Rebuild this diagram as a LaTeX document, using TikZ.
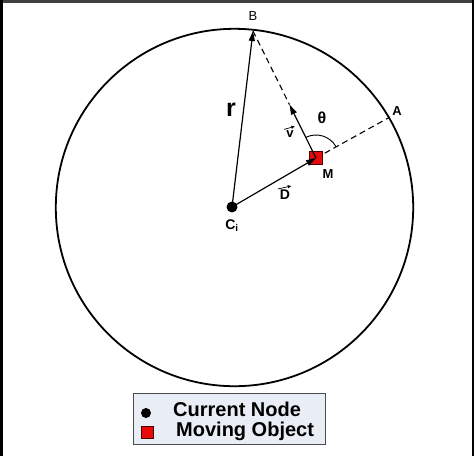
\documentclass[tikz,border=0pt]{standalone}
\usepackage{fontspec}
\setmainfont{Liberation Sans}
\usetikzlibrary{arrows.meta,calc}
\definecolor{legfill}{RGB}{233,237,246}
\definecolor{objred}{RGB}{230,10,10}
\begin{document}
\begin{tikzpicture}[x=1pt,y=-1pt,
  vec/.style={line width=1.2pt,-{Triangle[length=10pt,width=6pt]}},
  accent/.style={line width=0.7pt,-{Triangle[length=3.5pt,width=3pt]}},
  dashline/.style={line width=1.1pt,dash pattern=on 6pt off 4pt},
  lbl/.style={font=\fontsize{13}{13}\selectfont,inner sep=0pt},
  blbl/.style={font=\fontsize{13}{13}\selectfont\bfseries,inner sep=0pt},
  redsq/.style={draw=black!70!red,fill=objred,line width=0.6pt,minimum size=13pt,inner sep=0pt},
  blackdot/.style={circle,fill=black,inner sep=0pt},
  legtext/.style={anchor=west,inner sep=0pt,text height=13.5pt,text depth=4pt,font=\fontsize{20}{20}\selectfont\bfseries}]
\useasboundingbox (0,0) rectangle (474,456);
\fill[white] (0,0) rectangle (474,456);
% frame
\draw[line width=2.5pt,black!75] (0,1.25) -- (474,1.25);
\draw[line width=2.5pt,black] (1.25,0) -- (1.25,456);
\draw[line width=2.5pt,black] (472.75,0) -- (472.75,456);
% points
\coordinate (C) at (232,207);
\coordinate (B) at (253,31);
\coordinate (A) at (390,117);
\coordinate (M) at (316,158);
\coordinate (V) at ($(M)!0.42!(B)$);
% circle
\draw[line width=1.8pt] (234.5,207.5) circle[radius=178.7];
% dashed lines
\draw[dashline] (B) -- (V);
\draw[dashline] (M) -- (A);
% angle arc
\draw[line width=0.9pt] ($(M)+(29:23 and -23)$) arc[start angle=-29,end angle=-116,radius=23];
% square
\node[redsq] (Msq) at (M) {};
% vectors
\draw[vec] (C) -- (B);
\draw[vec] (C) -- (M);
\draw[vec] (M) -- (V);
% center dot
\node[blackdot,minimum size=11pt] (Cdot) at (C) {};
% labels
\node[lbl] (Bl) at (253,16) {B};
\node[blbl] (Al) at (397,111) {A};
\node[blbl] (Ml) at (328,174) {M};
\node[blbl,font=\fontsize{14}{14}\selectfont\bfseries] (Cl) at (232,226) {C\textsubscript{i}};
\node[inner sep=0pt,font=\fontsize{25}{25}\selectfont\bfseries] (rl) at (231,110) {r};
\node[inner sep=0pt,font=\fontsize{16}{16}\selectfont\bfseries] (tl) at (322,118) {θ};
\node[inner sep=0pt,font=\fontsize{13}{13}\selectfont\bfseries] (vl) at (290,134) {v};
\draw[accent] ($(vl.north west)+(-2,-1)$) -- ($(vl.north east)+(1,-4)$);
\node[inner sep=0pt,font=\fontsize{14}{14}\selectfont\bfseries] (Dl) at (285,195) {D};
\draw[accent] ($(Dl.north west)+(-2,-1)$) -- ($(Dl.north east)+(1,-4)$);
% legend
\node[draw=black!70,fill=legfill,line width=0.8pt,minimum width=192pt,minimum height=51pt,inner sep=0pt] (leg) at (229,418.5) {};
\node[blackdot,minimum size=10pt] (ldot) at (146,413) {};
\node[redsq,minimum size=12pt] (lsq) at (147,432) {};
\node[legtext] (t1) at (173,412) {Current Node};
\node[legtext] (t2) at (176,432) {Moving Object};
\end{tikzpicture}
\end{document}
